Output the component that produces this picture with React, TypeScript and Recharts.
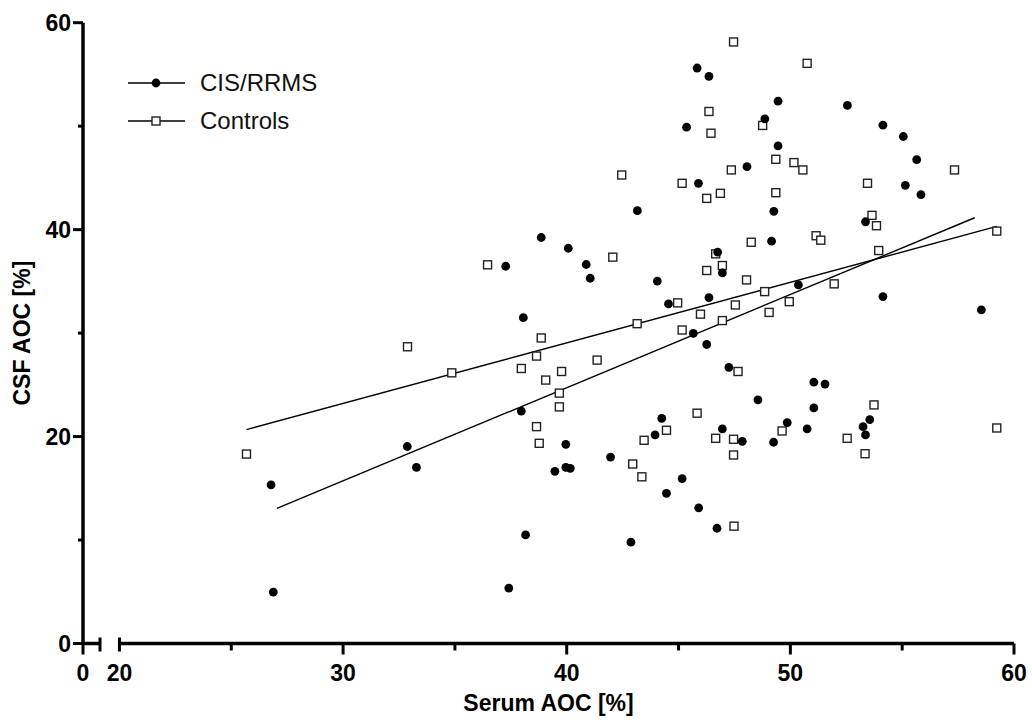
import { Legend, ReferenceLine, Scatter, ScatterChart, XAxis, YAxis } from "recharts";

const FONT = '"Liberation Sans", Arial, Helvetica, sans-serif';

// broken x axis: "0" sits just left of the break, the scale restarts at 20
const AXIS_ZERO = 18.37;
const AXIS_BREAK = 19.13;

const xTicks = [AXIS_ZERO, AXIS_BREAK, 20, 25, 30, 35, 40, 45, 50, 55, 60];
const xTickLabels = ["0", "20", "30", "40", "50", "60"];
const xLabeledTicks = [AXIS_ZERO, 20, 30, 40, 50, 60];
const yTicks = [0, 10, 20, 30, 40, 50, 60];
const yLabeledTicks = [0, 20, 40, 60];

// [serum AOC, CSF AOC]
const cisPoints: [number, number][] = [
    [26.88, 4.97], [26.78, 15.34], [32.87, 19.04], [33.28, 17.02], [37.41, 5.36], [38.16, 10.49],
    [37.97, 22.46], [38.06, 31.49], [37.27, 36.46], [38.86, 39.24], [40.07, 38.2], [40.87, 36.63],
    [41.05, 35.3], [39.96, 19.25], [39.47, 16.64], [39.96, 17.02], [40.16, 16.93], [41.96, 18.02],
    [42.87, 9.79], [43.16, 41.83], [44.05, 35.03], [44.55, 32.82], [43.95, 20.16], [44.25, 21.75],
    [44.46, 14.51], [45.16, 15.94], [45.9, 13.11], [46.72, 11.14], [45.36, 49.9], [45.83, 55.62],
    [45.89, 44.48], [46.36, 54.81], [45.66, 29.97], [46.26, 28.9], [46.36, 33.43], [46.75, 37.82],
    [46.96, 35.82], [47.25, 26.68], [46.96, 20.74], [47.85, 19.54], [48.06, 46.09], [48.55, 23.55],
    [48.86, 50.71], [49.45, 52.42], [49.45, 48.09], [49.26, 41.76], [49.16, 38.88], [49.25, 19.45],
    [49.86, 21.35], [50.36, 34.66], [50.75, 20.74], [51.05, 25.26], [51.55, 25.07], [51.05, 22.77],
    [52.55, 52.0], [53.36, 40.76], [53.55, 21.64], [53.25, 20.96], [53.36, 20.16], [54.14, 50.1],
    [54.14, 33.53], [55.05, 49.0], [55.14, 44.28], [55.65, 46.77], [55.84, 43.38], [58.54, 32.24],
];

const controlPoints: [number, number][] = [
    [25.68, 18.31], [32.88, 28.68], [34.86, 26.16], [36.46, 36.6], [38.86, 29.53], [38.65, 27.78],
    [37.97, 26.58], [39.06, 25.46], [39.67, 24.2], [39.67, 22.87], [38.65, 20.96], [38.77, 19.35],
    [39.77, 26.29], [41.36, 27.39], [42.06, 37.34], [42.46, 45.28], [43.15, 30.91], [42.95, 17.35],
    [43.36, 16.11], [43.46, 19.64], [44.46, 20.61], [44.96, 32.92], [45.16, 44.48], [45.16, 30.3],
    [45.83, 22.26], [45.98, 31.83], [46.26, 43.02], [46.26, 36.05], [46.36, 51.42], [46.45, 49.32],
    [46.66, 37.66], [46.66, 19.83], [46.87, 43.51], [46.96, 36.53], [46.96, 31.21], [47.36, 45.77],
    [47.46, 58.14], [47.46, 19.74], [47.46, 18.22], [47.54, 32.72], [47.66, 26.29], [48.04, 35.14],
    [47.48, 11.34], [48.25, 38.78], [48.76, 50.07], [48.85, 34.01], [49.05, 32.0], [49.35, 46.8],
    [49.35, 43.57], [49.63, 20.54], [49.95, 33.04], [50.16, 46.48], [50.56, 45.77], [50.75, 56.07],
    [51.15, 39.41], [51.36, 38.98], [51.96, 34.76], [52.54, 19.83], [53.34, 18.34], [53.45, 44.48],
    [53.65, 41.38], [53.74, 23.06], [53.85, 40.38], [53.95, 37.98], [57.34, 45.77], [59.23, 39.86],
    [59.23, 20.83],
];

// regression line end points
const cisFit: [number, number][] = [[27.04, 13.05], [58.24, 41.15]];
const controlFit: [number, number][] = [[25.68, 20.67], [59.23, 40.31]];

const legendItems = ["CIS/RRMS", "Controls"];

const toXY = (pts: [number, number][]) => pts.map(([x, y]) => ({ x, y }));

const AXIS_X = 83;
const AXIS_Y = 643.5;

const Dot = (props: any) => <circle cx={props.cx} cy={props.cy} r={4.4} fill="#000" />;
const Box = (props: any) => (
    <rect x={props.cx - 4} y={props.cy - 4} width={8} height={8} fill="#fff" stroke="#222" strokeWidth={1.4} />
);
const NoMark = () => <g />;

function XTick({ x, payload }: any) {
    const v = payload.value;
    const idx = xLabeledTicks.indexOf(v);
    const isBreak = v === AXIS_BREAK || v === 20;
    const down = idx >= 0 ? 11 : 7;
    return (
        <g>
            <line x1={x} x2={x} y1={isBreak ? AXIS_Y - 6 : AXIS_Y} y2={AXIS_Y + (isBreak ? 8 : down)} stroke="#000" strokeWidth={3} />
            {idx >= 0 && (
                <text x={x} y={AXIS_Y + 37} textAnchor="middle" fontFamily={FONT} fontWeight={700} fontSize={23} fill="#000">
                    {xTickLabels[idx]}
                </text>
            )}
        </g>
    );
}

function YTick({ y, payload }: any) {
    const major = yLabeledTicks.includes(payload.value);
    return (
        <g>
            <line x1={AXIS_X - (major ? 10 : 5)} x2={AXIS_X} y1={y} y2={y} stroke="#000" strokeWidth={3} />
            {major && (
                <text x={71} y={y} dy="0.36em" textAnchor="end" fontFamily={FONT} fontWeight={700} fontSize={23} fill="#000">
                    {payload.value}
                </text>
            )}
        </g>
    );
}

function LegendBox()
{
    return (
        <div style={{ fontFamily: FONT, fontSize: 24, color: "#111" }}>
            {legendItems.map((name, i) => (
                <div key={name} style={{ display: "flex", alignItems: "center", height: 38 }}>
                    <svg width={72} height={20}>
                        <line x1={0} x2={57} y1={10} y2={10} stroke="#000" strokeWidth={1.3} />
                        {i === 0
                            ? <circle cx={28} cy={10} r={4.4} fill="#000" />
                            : <rect x={24} y={6} width={8} height={8} fill="#fff" stroke="#222" strokeWidth={1.4} />}
                    </svg>
                    <span>{name}</span>
                </div>
            ))}
        </div>
    );
}

export default function App()
{
    return (
        <div style={{ position: "absolute", left: 0, top: 0, background: "#fff" }}>
            <ScatterChart width={1032} height={724} margin={{ top: 22.7, right: 18, bottom: 0, left: 0 }}>
                <XAxis
                    type="number"
                    dataKey="x"
                    domain={[AXIS_ZERO, 60]}
                    allowDataOverflow
                    ticks={xTicks}
                    interval={0}
                    axisLine={false}
                    tickLine={false}
                    tick={<XTick />}
                    height={80.5}
                    label={{
                        value: "Serum AOC [%]",
                        position: "insideBottom",
                        offset: 13,
                        style: { fontFamily: FONT, fontWeight: 700, fontSize: 23, fill: "#000" },
                    }}
                />
                <YAxis
                    type="number"
                    dataKey="y"
                    domain={[0, 60]}
                    allowDataOverflow
                    ticks={yTicks}
                    interval={0}
                    width={AXIS_X}
                    axisLine={{ stroke: "#000", strokeWidth: 3.5 }}
                    tickLine={false}
                    tick={<YTick />}
                    label={{
                        value: "CSF AOC [%]",
                        angle: -90,
                        position: "insideLeft",
                        offset: 22,
                        style: { textAnchor: "middle", fontFamily: FONT, fontWeight: 700, fontSize: 23, fill: "#000" },
                    }}
                />
                <ReferenceLine segment={[{ x: AXIS_ZERO, y: 0 }, { x: AXIS_BREAK, y: 0 }]} stroke="#000" strokeWidth={3.5} />
                <ReferenceLine segment={[{ x: 20, y: 0 }, { x: 60, y: 0 }]} stroke="#000" strokeWidth={3.5} />
                <Scatter name="CIS/RRMS fit" data={toXY(cisFit)} line={{ stroke: "#000", strokeWidth: 1.4 }} shape={NoMark} legendType="none" isAnimationActive={false} />
                <Scatter name="Controls fit" data={toXY(controlFit)} line={{ stroke: "#000", strokeWidth: 1.4 }} shape={NoMark} legendType="none" isAnimationActive={false} />
                <Scatter name="Controls" data={toXY(controlPoints)} shape={Box} isAnimationActive={false} />
                <Scatter name="CIS/RRMS" data={toXY(cisPoints)} shape={Dot} isAnimationActive={false} />
                <Legend
                    layout="vertical"
                    align="center"
                    verticalAlign="middle"
                    content={<LegendBox />}
                    wrapperStyle={{ left: 128, top: 64, width: "auto" }}
                />
            </ScatterChart>
        </div>
    );
}
